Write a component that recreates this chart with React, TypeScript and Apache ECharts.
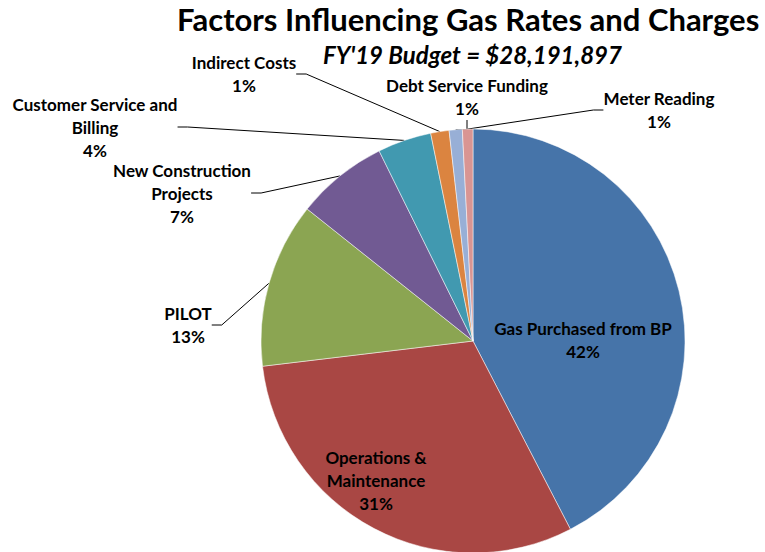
import React, { useEffect, useRef } from "react";
import * as echarts from "echarts";

const categories = [
  "Gas Purchased from BP",
  "Operations &\nMaintenance",
  "PILOT",
  "New Construction\nProjects",
  "Customer Service and\nBilling",
  "Indirect Costs",
  "Debt Service Funding",
  "Meter Reading",
];
const values = [42.4, 30.7, 12.6, 7.0, 4.1, 1.4, 1.0, 0.8];
const colors = ["#4674A9", "#A94744", "#8BA552", "#715A93", "#4199B0", "#DB8440", "#98AFD6", "#D99593"];
const insideLabels = [true, true, false, false, false, false, false, false];
const labelPos: [number, number][] = [
  [583, 340],
  [376, 480],
  [188, 325],
  [182, 193],
  [95, 127],
  [244, 74],
  [467, 97],
  [659, 110],
];

const titleText = "Factors Influencing Gas Rates and Charges";
const subtitleText = "FY'19 Budget = $28,191,897";

export default function App() {
  const ref = useRef<HTMLDivElement>(null);
  useEffect(() => {
    document.body.style.margin = "0";
    const chart = echarts.init(ref.current!, null, { renderer: "svg" });
    const font = "Lato, 'Open Sans', sans-serif";
    chart.setOption({
      animation: false,
      backgroundColor: "#ffffff",
      graphic: [
        {
          type: "text",
          left: 177,
          top: 3,
          style: { text: titleText, font: `bold 31px ${font}`, fill: "#000" },
        },
        {
          type: "text",
          left: 323,
          top: 42,
          style: { text: subtitleText, font: `italic bold 24px ${font}`, fill: "#000" },
        },
      ],
      series: [
        {
          type: "pie",
          center: [473, 341],
          radius: [0, 212],
          startAngle: 90,
          clockwise: true,
          avoidLabelOverlap: false,
          percentPrecision: 0,
          itemStyle: { borderColor: "#ffffff", borderWidth: 0.5 },
          data: categories.map((name, i) => ({
            name,
            value: values[i],
            itemStyle: { color: colors[i] },
            label: { position: insideLabels[i] ? "inside" : "outside" },
            labelLine: { show: !insideLabels[i] },
          })),
          label: {
            formatter: "{b}\n{d}%",
            color: "#000",
            fontFamily: font,
            fontWeight: "bold",
            fontSize: 17,
            lineHeight: 23,
            align: "center",
          },
          labelLine: {
            show: true,
            lineStyle: { color: "#000", width: 1 },
            length: 10,
            length2: 10,
          },
          labelLayout: (params: any) => {
            const p = labelPos[params.dataIndex];
            return { x: p[0], y: p[1], align: "center", verticalAlign: "middle" };
          },
        },
      ],
    });
    return () => chart.dispose();
  }, []);
  return <div ref={ref} style={{ width: 765, height: 552 }} />;
}
